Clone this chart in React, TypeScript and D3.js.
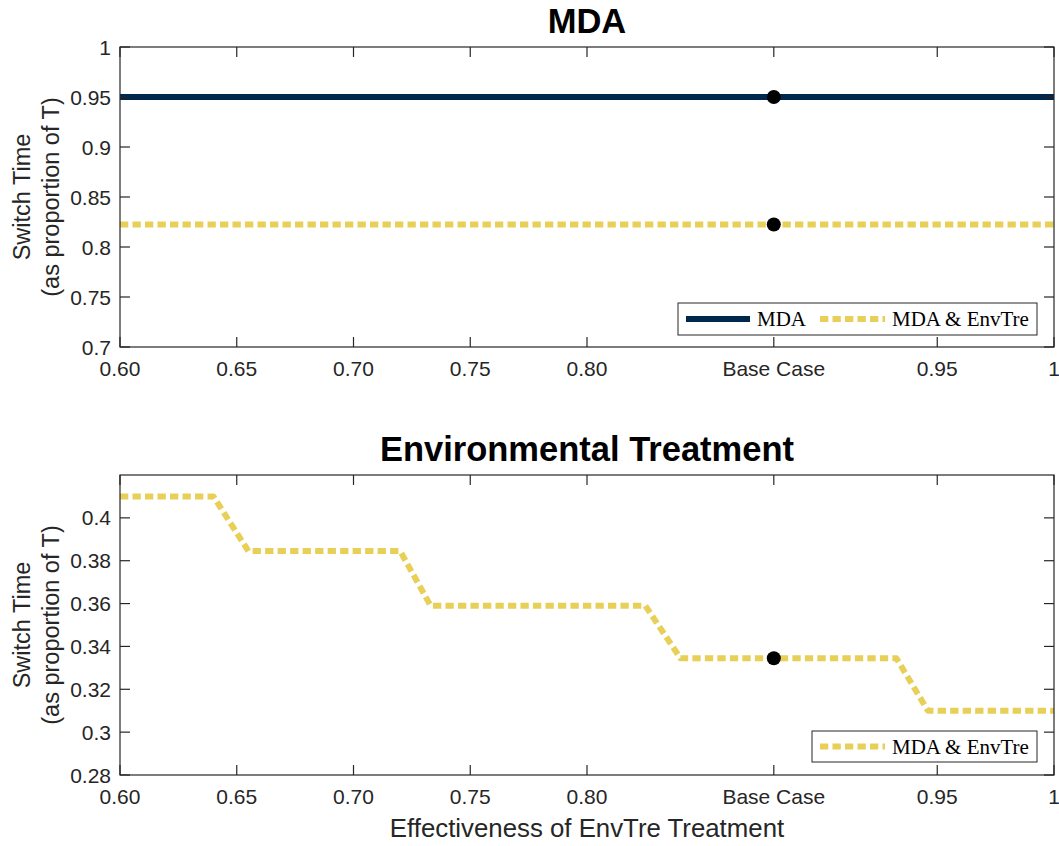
import React from "react";
import * as d3 from "d3";

const xTickValues = [0.6, 0.65, 0.7, 0.75, 0.8, 0.88, 0.95, 1.0];
const xTickLabels = ["0.60", "0.65", "0.70", "0.75", "0.80", "Base Case", "0.95", "1"];
const baseCase = 0.88;

const topYTicks = [0.7, 0.75, 0.8, 0.85, 0.9, 0.95, 1];
const topYLabels = ["0.7", "0.75", "0.8", "0.85", "0.9", "0.95", "1"];
const mdaValue = 0.95;
const mdaEnvValue = 0.8225;
const topLineX = [0.6, 1.0];

const botYTicks = [0.28, 0.3, 0.32, 0.34, 0.36, 0.38, 0.4];
const botYLabels = ["0.28", "0.3", "0.32", "0.34", "0.36", "0.38", "0.4"];
const envX = [0.6, 0.64, 0.655, 0.72, 0.733, 0.825, 0.84, 0.9325, 0.946, 1.0];
const envY = [0.41, 0.41, 0.3845, 0.3845, 0.359, 0.359, 0.3345, 0.3345, 0.31, 0.31];
const envBaseValue = 0.3345;

const NAVY = "#00274C";
const MAIZE = "#E8CF58";
const AXIS = "#262626";
const SANS = "'Liberation Sans', Arial, Helvetica, sans-serif";
const SERIF = "'Liberation Serif', 'Times New Roman', serif";
const DASH = "8.3 4.2";

type PanelProps = {
  top: number;
  yDomain: [number, number];
  yTicks: number[];
  yLabels: string[];
  title: string;
  children: (x: d3.ScaleLinear<number, number>, y: d3.ScaleLinear<number, number>) => React.ReactNode;
};

const L = 120, R = 1054, H = 300;

function Panel({ top, yDomain, yTicks, yLabels, title, children }: PanelProps) {
  const x = d3.scaleLinear().domain([0.6, 1.0]).range([L, R]);
  const y = d3.scaleLinear().domain(yDomain).range([top + H, top]);
  const bottom = top + H;
  const tl = 10;
  return (
    <g>
      {children(x, y)}
      <rect x={L} y={top} width={R - L} height={H} fill="none" stroke={AXIS} strokeWidth={1.2} />
      {xTickValues.map((v, i) => (
        <g key={"xt" + i}>
          <line x1={x(v)} x2={x(v)} y1={bottom} y2={bottom - tl} stroke={AXIS} strokeWidth={1.2} />
          <line x1={x(v)} x2={x(v)} y1={top} y2={top + tl} stroke={AXIS} strokeWidth={1.2} />
          <text x={x(v)} y={bottom + 21} textAnchor="middle" dominantBaseline="central" fontFamily={SANS} fontSize={21} fill={AXIS}>
            {xTickLabels[i]}
          </text>
        </g>
      ))}
      {yTicks.map((v, i) => (
        <g key={"yt" + i}>
          <line x1={L} x2={L + tl} y1={y(v)} y2={y(v)} stroke={AXIS} strokeWidth={1.2} />
          <line x1={R} x2={R - tl} y1={y(v)} y2={y(v)} stroke={AXIS} strokeWidth={1.2} />
          <text x={L - 9} y={y(v)} textAnchor="end" dominantBaseline="central" fontFamily={SANS} fontSize={21} fill={AXIS}>
            {yLabels[i]}
          </text>
        </g>
      ))}
      <text x={(L + R) / 2} y={top - 26} textAnchor="middle" dominantBaseline="central" fontFamily={SANS} fontWeight="bold" fontSize={34.5} fill="#000">
        {title}
      </text>
      <text transform={`translate(22,${top + H / 2}) rotate(-90)`} textAnchor="middle" dominantBaseline="central" fontFamily={SANS} fontSize={23.5} fill={AXIS}>
        Switch Time
      </text>
      <text transform={`translate(51,${top + H / 2}) rotate(-90)`} textAnchor="middle" dominantBaseline="central" fontFamily={SANS} fontSize={23.5} fill={AXIS}>
        (as proportion of T)
      </text>
    </g>
  );
}

export default function App() {
  const line = (x: d3.ScaleLinear<number, number>, y: d3.ScaleLinear<number, number>, xs: number[], ys: number[]) =>
    d3.line<number>().x((_, i) => x(xs[i])).y((_, i) => y(ys[i]))(xs) || "";

  return (
    <svg width={1059} height={846} style={{ position: "absolute", left: 0, top: 0, background: "#fff" }}>
      <Panel top={47} yDomain={[0.7, 1.0]} yTicks={topYTicks} yLabels={topYLabels} title="MDA">
        {(x, y) => (
          <g>
            <path d={line(x, y, topLineX, topLineX.map(() => mdaValue))} stroke={NAVY} strokeWidth={6} fill="none" />
            <path d={line(x, y, topLineX, topLineX.map(() => mdaEnvValue))} stroke={MAIZE} strokeWidth={6} fill="none" strokeDasharray={DASH} />
            <circle cx={x(baseCase)} cy={y(mdaValue)} r={7} fill="#000" />
            <circle cx={x(baseCase)} cy={y(mdaEnvValue)} r={7} fill="#000" />
            <g>
              <rect x={678} y={303} width={359} height={32} fill="#fff" stroke={AXIS} strokeWidth={1} />
              <line x1={686} x2={750} y1={319} y2={319} stroke={NAVY} strokeWidth={6} />
              <text x={757} y={319} dominantBaseline="central" fontFamily={SERIF} fontSize={21} fill="#000">MDA</text>
              <line x1={820} x2={885} y1={319} y2={319} stroke={MAIZE} strokeWidth={6} strokeDasharray={DASH} />
              <text x={892} y={319} dominantBaseline="central" fontFamily={SERIF} fontSize={21} fill="#000">MDA &amp; EnvTre</text>
            </g>
          </g>
        )}
      </Panel>
      <Panel top={475} yDomain={[0.28, 0.42]} yTicks={botYTicks} yLabels={botYLabels} title="Environmental Treatment">
        {(x, y) => (
          <g>
            <path d={line(x, y, envX, envY)} stroke={MAIZE} strokeWidth={6} fill="none" strokeDasharray={DASH} strokeLinejoin="round" />
            <circle cx={x(baseCase)} cy={y(envBaseValue)} r={7} fill="#000" />
            <g>
              <rect x={812} y={731} width={225} height={31} fill="#fff" stroke={AXIS} strokeWidth={1} />
              <line x1={820} x2={885} y1={746.5} y2={746.5} stroke={MAIZE} strokeWidth={6} strokeDasharray={DASH} />
              <text x={892} y={746.5} dominantBaseline="central" fontFamily={SERIF} fontSize={21} fill="#000">MDA &amp; EnvTre</text>
            </g>
          </g>
        )}
      </Panel>
      <text x={(L + R) / 2} y={828} textAnchor="middle" dominantBaseline="central" fontFamily={SANS} fontSize={25.8} fill={AXIS}>
        Effectiveness of EnvTre Treatment
      </text>
    </svg>
  );
}
